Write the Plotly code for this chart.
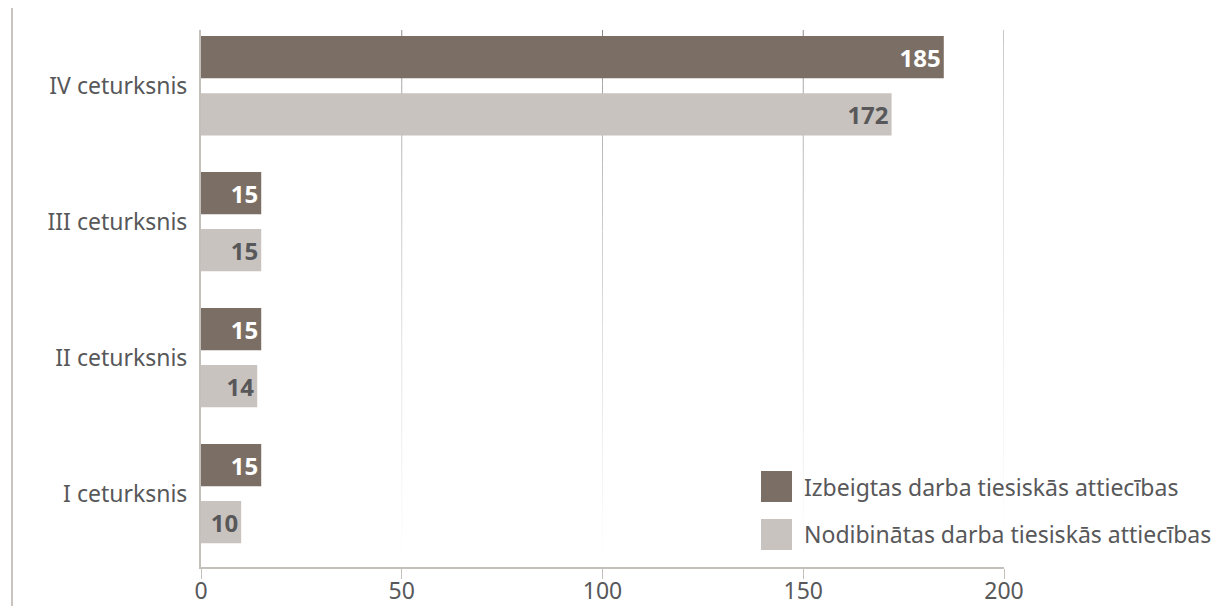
import plotly.graph_objects as go

categories = ["I ceturksnis", "II ceturksnis", "III ceturksnis", "IV ceturksnis"]
izbeigtas = [15, 15, 15, 185]
nodibinatas = [10, 14, 15, 172]
series_names = ["Izbeigtas darba tiesiskās attiecības", "Nodibinātas darba tiesiskās attiecības"]
x_ticks = [0, 50, 100, 150, 200]

DARK = "#7b6e64"
LIGHT = "#c8c3bf"
AXIS = "#c3bfbb"
TXT = "#58585a"
FONT = "Noto Sans"

fig = go.Figure()
fig.add_trace(go.Bar(
    y=categories, x=nodibinatas, name=series_names[1], orientation="h",
    marker=dict(color=LIGHT, line=dict(width=0)),
    text=nodibinatas, textposition="inside", insidetextanchor="end",
    textfont=dict(family=FONT, size=24, color=TXT, weight="bold"),
    constraintext="none", cliponaxis=False, showlegend=False,
))
fig.add_trace(go.Bar(
    y=categories, x=izbeigtas, name=series_names[0], orientation="h",
    marker=dict(color=DARK, line=dict(width=0)),
    text=izbeigtas, textposition="inside", insidetextanchor="end",
    textfont=dict(family=FONT, size=24, color="white", weight="bold"),
    constraintext="none", cliponaxis=False, showlegend=False,
))

def lerp(c1, c2, t):
    return "rgb(%d,%d,%d)" % tuple(round(a + (b - a) * t) for a, b in zip(c1, c2))

shapes = []
annotations = []
N = 40
top_c = (140, 140, 140)
bot_c = (255, 255, 255)
for v in x_ticks[1:]:
    for i in range(N):
        y1 = 1 - i / N
        y0 = 1 - (i + 1) / N
        t = (i / (N - 1)) ** 0.6
        shapes.append(dict(type="line", xref="x", yref="paper", x0=v, x1=v, y0=y0, y1=y1,
                           line=dict(color=lerp(top_c, bot_c, t), width=1), layer="below"))

# left decorative vertical line
shapes.append(dict(type="line", xref="paper", yref="paper", x0=-0.2354, x1=-0.2354, y0=-0.1, y1=1.041,
                   line=dict(color=LIGHT, width=2)))

# custom legend (large squares)
legend_items = [(series_names[0], DARK, 0.121, 0.1788), (series_names[1], LIGHT, 0.0317, 0.0894)]
for name, col, y0, y1 in legend_items:
    shapes.append(dict(type="rect", xref="paper", yref="paper", x0=0.6974, x1=0.736, y0=y0, y1=y1,
                       fillcolor=col, line=dict(width=0)))
    annotations.append(dict(xref="paper", yref="paper", x=0.749, y=(y0 + y1) / 2, text=name,
                            showarrow=False, xanchor="left", yanchor="middle",
                            font=dict(family=FONT, size=23, color=TXT)))

fig.update_layout(
    width=1231, height=606,
    margin=dict(l=193, r=235, t=22, b=47, autoexpand=False),
    paper_bgcolor="white", plot_bgcolor="white",
    barmode="group", bargap=0.16, bargroupgap=0.26,
    font=dict(family=FONT, size=23, color=TXT),
    showlegend=False,
    shapes=shapes,
    annotations=annotations,
    xaxis=dict(range=[0, 200], tickvals=x_ticks, showgrid=False, zeroline=False,
               showline=True, linecolor=AXIS, linewidth=2, automargin=False,
               ticks="outside", ticklen=10, tickcolor=AXIS, tickwidth=1,
               ticklabelstandoff=-8,
               tickfont=dict(family=FONT, size=23, color=TXT)),
    yaxis=dict(range=[-0.54, 3.41], showgrid=False, zeroline=False,
               showline=True, linecolor=AXIS, linewidth=2, ticks="", ticklen=0,
               ticklabelstandoff=7, automargin=False,
               tickfont=dict(family=FONT, size=23, color=TXT)),
)
fig.write_html("out.html")
